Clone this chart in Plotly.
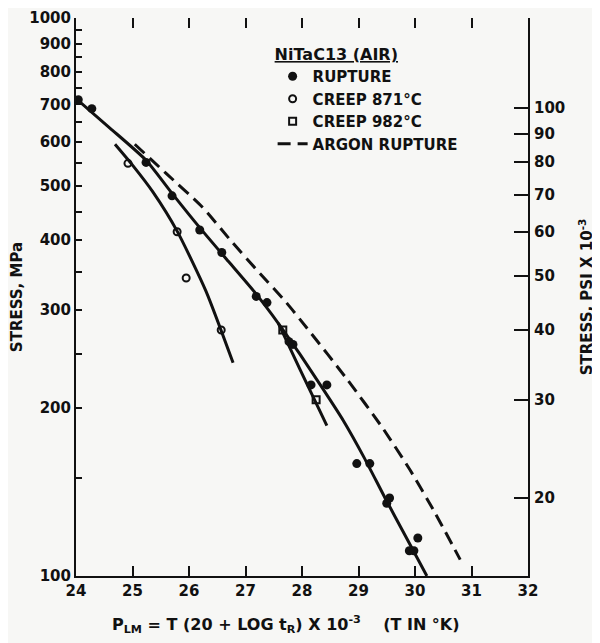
import math

import plotly.graph_objects as go

# Larson-Miller parameter (x 10^-3) and stress (MPa)
rupture_x = [24.04, 24.28, 25.24, 25.70, 26.19, 26.58, 27.19, 27.38, 27.77, 27.84,
             28.16, 28.44, 28.97, 29.20, 29.50, 29.55, 29.90, 29.98, 30.05]
rupture_y = [714, 688, 551, 480, 417, 380, 317, 309, 263, 260,
             220, 220, 159, 159, 135, 138, 111, 111, 117]

creep871_x = [24.92, 25.79, 25.95, 26.57]
creep871_y = [549, 414, 342, 276]

creep982_x = [27.66, 28.25]
creep982_y = [276, 207]

rupture_fit_x = [24.0, 24.6, 25.24, 25.7, 26.19, 26.7, 27.19, 27.6, 27.96, 28.35, 28.73, 29.1, 29.47, 29.85, 30.21]
rupture_fit_y = [717, 635, 556, 485, 421, 366, 320, 282, 250, 218, 190, 163, 138, 117, 100]

creep871_fit_x = [24.69, 25.0, 25.36, 25.79, 26.3, 26.78]
creep871_fit_y = [594, 545, 488, 415, 324, 241]

creep982_fit_x = [27.58, 27.96, 28.44]
creep982_fit_y = [284, 235, 186]

argon_fit_x = [25.04, 25.6, 26.23, 26.75, 27.26, 27.7, 28.09, 28.8, 29.43, 29.91, 30.35, 30.80]
argon_fit_y = [594, 526, 459, 398, 348, 311, 278, 225, 184, 155, 130, 107]

x_ticks = [24, 25, 26, 27, 28, 29, 30, 31, 32]
mpa_ticks = [100, 200, 300, 400, 500, 600, 700, 800, 900, 1000]
mpa_minor = [150, 250, 350, 450, 550, 650, 750, 850, 950]
ksi_ticks = [20, 30, 40, 50, 60, 70, 80, 90, 100]

MPA_PER_KSI = 6.894757
INK = "#111111"
PAPER = "#f7f7f5"
FONT = "DejaVu Sans"

fig = go.Figure()

fit_style = {"color": INK, "width": 3, "shape": "spline", "smoothing": 0.6}
for fx, fy in ((rupture_fit_x, rupture_fit_y),
               (creep871_fit_x, creep871_fit_y),
               (creep982_fit_x, creep982_fit_y)):
    fig.add_trace(go.Scatter(x=fx, y=fy, mode="lines", line=fit_style,
                             showlegend=False, hoverinfo="skip"))

fig.add_trace(go.Scatter(
    x=rupture_x, y=rupture_y, mode="markers", name="RUPTURE",
    marker={"symbol": "circle", "size": 9, "color": INK},
))
fig.add_trace(go.Scatter(
    x=creep871_x, y=creep871_y, mode="markers", name="CREEP 871°C",
    marker={"symbol": "circle-open", "size": 7, "color": INK, "line": {"width": 2}},
))
fig.add_trace(go.Scatter(
    x=creep982_x, y=creep982_y, mode="markers", name="CREEP 982°C",
    marker={"symbol": "square-open", "size": 7, "color": INK, "line": {"width": 2}},
))
fig.add_trace(go.Scatter(
    x=argon_fit_x, y=argon_fit_y, mode="lines", name="ARGON RUPTURE",
    line={"color": INK, "width": 3, "dash": "13px,7px", "shape": "spline", "smoothing": 0.6},
))

axis_font = {"family": FONT, "size": 15, "color": INK, "weight": "bold"}
title_font = {"family": FONT, "size": 15, "color": INK, "weight": "bold"}

# the page body keeps its default 8px margin, so the figure is sized to sit inside it
fig.update_layout(
    width=592,
    height=635,
    paper_bgcolor=PAPER,
    plot_bgcolor=PAPER,
    margin={"l": 68, "r": 72, "t": 10, "b": 67},
    font={"family": FONT, "color": INK, "size": 14},
    showlegend=True,
    legend={
        "x": 0.435, "y": 0.962, "xanchor": "left", "yanchor": "top",
        "bgcolor": "rgba(0,0,0,0)",
        "font": {"family": FONT, "size": 15, "color": INK, "weight": "bold"},
        "title": {"text": "<u>NiTaC13 (AIR)</u>",
                  "font": {"family": FONT, "size": 16, "color": INK, "weight": "bold"}},
        "itemwidth": 30,
        "tracegroupgap": 0,
    },
    xaxis={
        "range": [24, 32],
        "tickvals": x_ticks,
        "ticks": "inside",
        "ticklen": 10,
        "tickwidth": 2,
        "tickcolor": INK,
        "showline": True,
        "linecolor": INK,
        "linewidth": 2,
        "showgrid": False,
        "zeroline": False,
        "automargin": False,
        "ticklabeloverflow": "allow",
        "tickfont": axis_font,
    },
    xaxis2={
        "range": [24, 32],
        "overlaying": "x",
        "side": "top",
        "tickvals": x_ticks[1:-1],
        "ticks": "inside",
        "ticklen": 10,
        "tickwidth": 2,
        "tickcolor": INK,
        "showticklabels": False,
        "showline": False,
        "showgrid": False,
        "zeroline": False,
        "automargin": False,
    },
    yaxis={
        "type": "log",
        "range": [2, 3],
        "tickvals": mpa_ticks,
        "ticks": "inside",
        "ticklen": 6,
        "tickwidth": 2,
        "tickcolor": INK,
        "minor": {"tickvals": mpa_minor, "ticks": "inside", "ticklen": 6,
                  "tickwidth": 2, "tickcolor": INK, "showgrid": False},
        "showline": True,
        "linecolor": INK,
        "linewidth": 2,
        "showgrid": False,
        "zeroline": False,
        "automargin": False,
        "ticklabeloverflow": "allow",
        "tickfont": axis_font,
        "title": {"text": "STRESS, MPa", "font": title_font, "standoff": 10},
    },
    yaxis2={
        "type": "log",
        "overlaying": "y",
        "side": "right",
        "range": [math.log10(100 / MPA_PER_KSI), math.log10(1000 / MPA_PER_KSI)],
        "tickvals": ksi_ticks,
        "ticks": "inside",
        "ticklen": 14,
        "tickwidth": 2,
        "tickcolor": INK,
        "ticklabelstandoff": 1,
        "showline": True,
        "linecolor": INK,
        "linewidth": 2,
        "showgrid": False,
        "zeroline": False,
        "automargin": False,
        "ticklabeloverflow": "allow",
        "tickfont": axis_font,
        "title": {"text": "STRESS, PSI X 10<sup>-3</sup>", "font": title_font, "standoff": 17},
    },
)

# invisible trace so the secondary axes are drawn with their own scales
fig.add_trace(go.Scatter(x=[None], y=[None], xaxis="x2", yaxis="y2",
                         showlegend=False, hoverinfo="skip"))

fig.add_annotation(
    xref="paper", yref="paper", x=0.075, y=-0.087,
    xanchor="left", yanchor="middle", showarrow=False,
    text="P<sub>LM</sub> = T (20 + LOG t<sub>R</sub>) X 10<sup>-3</sup>&nbsp;&nbsp;&nbsp;&nbsp;(T IN °K)",
    font={"family": FONT, "size": 16, "color": INK, "weight": "bold"},
)

fig.write_html("out.html")
